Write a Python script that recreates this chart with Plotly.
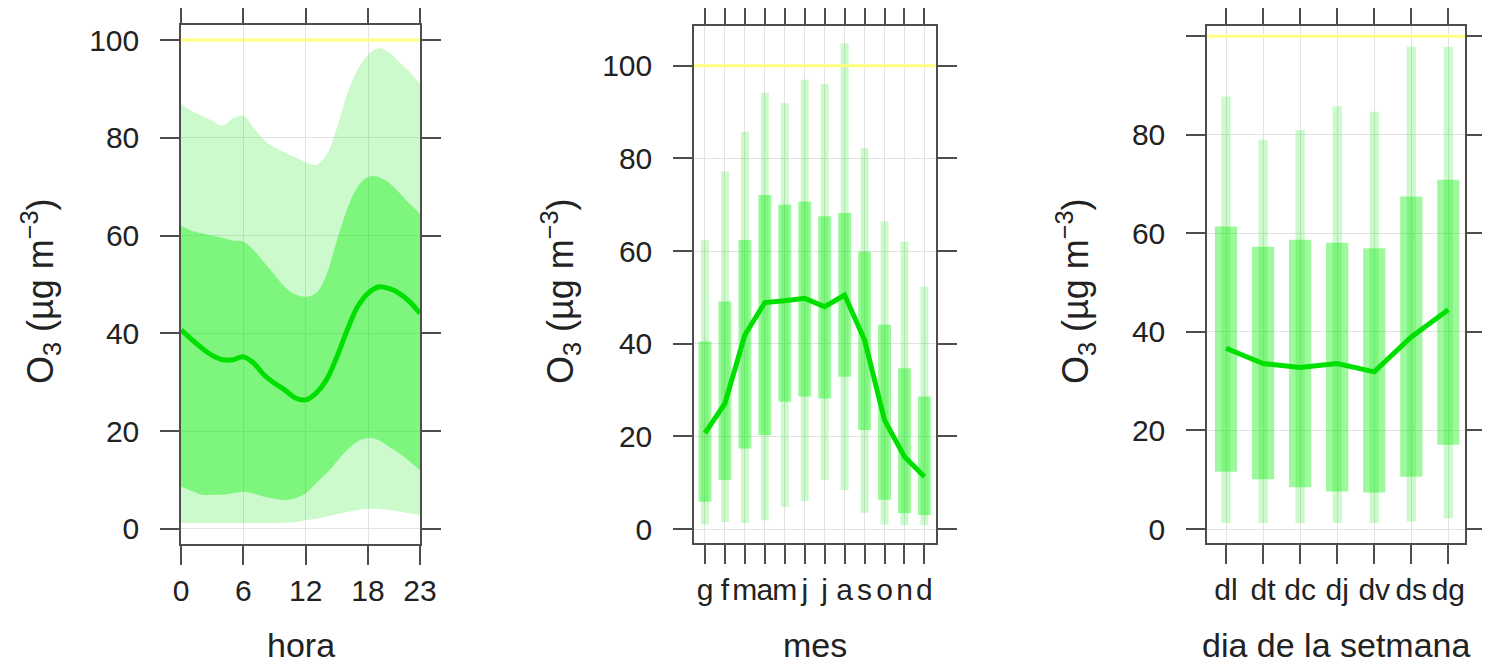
import plotly.graph_objects as go

# ---------------- data ----------------
hours = list(range(24))
hour_p95 = [87.0, 85.5, 84.5, 83.5, 82.5, 84.0, 84.5, 82.0, 79.5, 78.0, 77.0, 76.0,
            75.0, 74.5, 76.5, 82.0, 89.0, 94.0, 97.0, 98.3, 97.5, 95.5, 93.5, 91.0]
hour_p75 = [62.0, 61.0, 60.5, 60.0, 59.5, 59.0, 58.8, 57.0, 54.5, 52.0, 49.5, 48.0,
            47.5, 48.2, 52.0, 59.0, 65.5, 70.0, 72.0, 72.0, 70.8, 68.8, 66.5, 64.5]
hour_med = [40.7, 38.8, 37.0, 35.5, 34.6, 34.6, 35.2, 33.9, 31.5, 29.8, 28.4, 26.8,
            26.4, 27.8, 30.5, 35.2, 40.7, 45.5, 48.2, 49.5, 49.2, 48.2, 46.5, 44.1]
hour_p25 = [8.7, 7.8, 7.0, 7.0, 7.0, 7.3, 7.6, 7.2, 6.6, 6.2, 5.9, 6.3,
            7.3, 9.4, 11.4, 13.8, 16.2, 17.9, 18.6, 18.2, 16.8, 15.5, 13.8, 12.0]
hour_p5 = [1.2, 1.2, 1.2, 1.2, 1.2, 1.2, 1.2, 1.2, 1.2, 1.2, 1.3, 1.4,
           1.8, 2.1, 2.5, 3.0, 3.5, 3.9, 4.1, 4.1, 3.9, 3.6, 3.2, 2.9]
hour_ticks = [0, 6, 12, 18, 23]

months = list(range(1, 13))
month_labels = ["g", "f", "m", "a", "m", "j", "j", "a", "s", "o", "n", "d"]
month_p95 = [62.4, 77.2, 85.8, 94.2, 91.9, 97.0, 96.0, 104.9, 82.2, 66.4, 62.0, 52.3]
month_p75 = [40.5, 49.1, 62.4, 72.1, 70.0, 70.7, 67.5, 68.2, 59.9, 44.1, 34.7, 28.6]
month_med = [20.7, 27.1, 41.9, 48.9, 49.3, 49.8, 48.0, 50.5, 40.8, 23.5, 15.6, 11.3]
month_p25 = [5.9, 10.6, 17.4, 20.3, 27.5, 28.6, 28.2, 32.9, 21.4, 6.3, 3.4, 3.0]
month_p5 = [1.0, 1.5, 1.3, 1.9, 4.8, 6.0, 10.6, 8.4, 3.5, 1.0, 0.8, 0.8]

days = list(range(1, 8))
day_labels = ["dl", "dt", "dc", "dj", "dv", "ds", "dg"]
day_p95 = [87.8, 79.0, 81.0, 85.8, 84.7, 97.9, 97.9]
day_p75 = [61.4, 57.3, 58.7, 58.1, 57.0, 67.5, 70.9]
day_med = [36.7, 33.6, 32.8, 33.6, 31.9, 39.0, 44.5]
day_p25 = [11.6, 10.1, 8.5, 7.6, 7.4, 10.6, 17.1]
day_p5 = [1.2, 1.2, 1.2, 1.2, 1.2, 1.5, 2.2]

limit_value = 100
y_ticks = [0, 20, 40, 60, 80, 100]

# ---------------- style ----------------
OFF = 8                      # default page body margin (top/left)
W, H = 1490 - OFF, 666 - OFF
FONT = "Liberation Sans, Arial, sans-serif"
TXT = "#222222"
AX = "#4d4d4d"
LIGHT = "rgba(0,230,0,0.20)"
DARK = "rgba(0,240,0,0.38)"
LINE = "#00e000"
GRID = "#e3e3e3"


def fx(v):  # visible page x pixel -> paper fraction
    return (v - OFF) / W


def fy(v):  # visible page y pixel -> paper fraction
    return 1 - (v - OFF) / H


def px_x(a, b):
    return [fx(a), fx(b)]


def px_y(top, bottom):
    return [fy(bottom), fy(top)]


fig = go.Figure()

# ---- panel 1: hour bands ----
fig.add_trace(go.Scatter(x=hours, y=hour_p5, mode="lines", line=dict(width=0, shape="spline"),
                         xaxis="x", yaxis="y", showlegend=False, hoverinfo="skip"))
fig.add_trace(go.Scatter(x=hours, y=hour_p95, mode="lines", line=dict(width=0, shape="spline"),
                         fill="tonexty", fillcolor=LIGHT, xaxis="x", yaxis="y", showlegend=False))
fig.add_trace(go.Scatter(x=hours, y=hour_p25, mode="lines", line=dict(width=0, shape="spline"),
                         xaxis="x", yaxis="y", showlegend=False, hoverinfo="skip"))
fig.add_trace(go.Scatter(x=hours, y=hour_p75, mode="lines", line=dict(width=0, shape="spline"),
                         fill="tonexty", fillcolor=DARK, xaxis="x", yaxis="y", showlegend=False))
fig.add_trace(go.Scatter(x=hours, y=hour_med, mode="lines", line=dict(width=5, color=LINE, shape="spline"),
                         xaxis="x", yaxis="y", showlegend=False))

# ---- panel 2: months ----
fig.add_trace(go.Bar(x=months, base=month_p5, y=[h - l for h, l in zip(month_p95, month_p5)],
                     width=0.4, marker=dict(color=LIGHT, line=dict(width=0)),
                     xaxis="x2", yaxis="y2", showlegend=False))
fig.add_trace(go.Bar(x=months, base=month_p25, y=[h - l for h, l in zip(month_p75, month_p25)],
                     width=0.65, marker=dict(color=DARK, line=dict(width=0)),
                     xaxis="x2", yaxis="y2", showlegend=False))
fig.add_trace(go.Scatter(x=months, y=month_med, mode="lines", line=dict(width=5, color=LINE),
                         xaxis="x2", yaxis="y2", showlegend=False))

# ---- panel 3: days ----
fig.add_trace(go.Bar(x=days, base=day_p5, y=[h - l for h, l in zip(day_p95, day_p5)],
                     width=0.25, marker=dict(color=LIGHT, line=dict(width=0)),
                     xaxis="x3", yaxis="y3", showlegend=False))
fig.add_trace(go.Bar(x=days, base=day_p25, y=[h - l for h, l in zip(day_p75, day_p25)],
                     width=0.6, marker=dict(color=DARK, line=dict(width=0)),
                     xaxis="x3", yaxis="y3", showlegend=False))
fig.add_trace(go.Scatter(x=days, y=day_med, mode="lines", line=dict(width=5, color=LINE),
                         xaxis="x3", yaxis="y3", showlegend=False))

axis_common = dict(showline=True, linecolor=AX, linewidth=1.5, mirror="ticks",
                   ticks="outside", ticklen=19, tickwidth=1.5, tickcolor=AX,
                   showgrid=True, gridcolor=GRID, gridwidth=1, zeroline=False,
                   automargin=False, tickangle=0,
                   tickfont=dict(family=FONT, size=30, color=TXT))

fig.update_layout(
    template="none",
    width=W, height=H, margin=dict(l=0, r=0, t=0, b=0, autoexpand=False),
    paper_bgcolor="white", plot_bgcolor="white", barmode="overlay",
    font=dict(family=FONT, color=TXT),
    xaxis=dict(domain=px_x(181, 420), range=[0, 23], tickvals=hour_ticks,
               anchor="y", ticklabelstandoff=0, **axis_common),
    yaxis=dict(domain=px_y(25, 544), range=[-3.07, 103.07], tickvals=y_ticks,
               anchor="x", ticklabelstandoff=15, **axis_common),
    xaxis2=dict(domain=px_x(694, 936), range=[0.45, 12.58], tickvals=months, ticktext=month_labels,
                anchor="y2", ticklabelstandoff=0, **axis_common),
    yaxis2=dict(domain=px_y(26, 543), range=[-3.02, 108.6], tickvals=y_ticks,
                anchor="x2", ticklabelstandoff=15, **axis_common),
    xaxis3=dict(domain=px_x(1207, 1465), range=[0.487, 7.45], tickvals=days, ticktext=day_labels,
                anchor="y3", ticklabelstandoff=0, **axis_common),
    yaxis3=dict(domain=px_y(26, 543), range=[-2.84, 102.1], tickvals=y_ticks,
                ticktext=["0", "20", "40", "60", "80", ""],
                anchor="x3", ticklabelstandoff=15, **axis_common),
)

# limit lines
for xr, yr in [("x", "y"), ("x2", "y2"), ("x3", "y3")]:
    fig.add_shape(type="line", xref=f"{xr} domain", yref=yr, x0=0, x1=1,
                  y0=limit_value, y1=limit_value, line=dict(color="#ffff80", width=3), layer="above")

ytitle = "O<sub>3</sub> (µg m<sup>−3</sup>)"
for xc in [40, 560, 1075]:
    fig.add_annotation(text=ytitle, xref="paper", yref="paper", x=fx(xc), y=fy(291),
                       textangle=-90, showarrow=False, xanchor="center", yanchor="middle",
                       font=dict(family=FONT, size=36, color=TXT))

for xc, t in [(300.5, "hora"), (815, "mes"), (1336, "dia de la setmana")]:
    fig.add_annotation(text=t, xref="paper", yref="paper", x=fx(xc), y=fy(665),
                       showarrow=False, xanchor="center", yanchor="bottom",
                       borderpad=0, font=dict(family=FONT, size=34, color=TXT))

fig.write_html("out.html")
